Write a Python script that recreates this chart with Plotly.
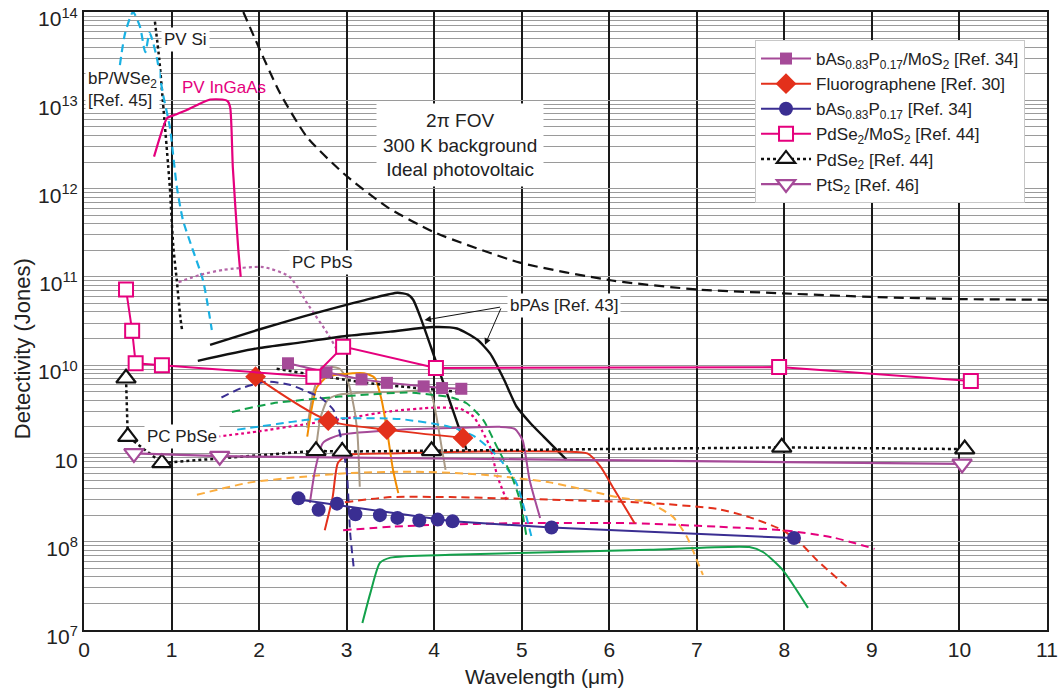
import plotly.graph_objects as go

# ---------------- data: wavelength (um) vs detectivity (Jones) ----------------
# ideal photovoltaic limit, 2pi FOV, 300 K background
blip_wl = [1.82, 1.96, 2.24, 2.55, 2.96, 3.46, 4.0, 4.98, 6.03, 7.0, 7.98, 9.05, 10.02, 11.0]
blip_d = [1.0e14, 4.8e13, 1.2e13, 3.8e12, 1.5e12, 6.2e11, 3.2e11, 1.45e11, 9.1e10, 7.2e10, 6.5e10, 5.9e10, 5.6e10, 5.5e10]

pvsi_wl = [0.81, 0.86, 0.90, 0.98, 1.02, 1.06, 1.10, 1.12]
pvsi_d = [7.8e13, 2.9e13, 1.0e13, 1.05e12, 2.2e11, 9.1e10, 3.5e10, 2.5e10]

bpwse2_wl = [0.41, 0.47, 0.56, 0.64, 0.70, 0.75, 0.83, 0.90, 0.98, 1.06, 1.13, 1.23, 1.36, 1.46]
bpwse2_d = [2.5e13, 5.8e13, 1.0e14, 6.8e13, 3.5e13, 5.8e13, 3.1e13, 1.2e13, 5.0e12, 1.05e12, 4.4e11, 2.2e11, 9.1e10, 2.5e10]

ingaas_wl = [0.80, 0.88, 0.95, 1.05, 1.18, 1.30, 1.44, 1.58, 1.64, 1.67, 1.70, 1.76, 1.79]
ingaas_d = [2.3e12, 4.2e12, 6.3e12, 6.9e12, 7.8e12, 8.9e12, 1.02e13, 1.02e13, 9.8e12, 8.3e12, 1.74e12, 2.2e11, 1.0e11]

pbs_wl = [1.08, 1.32, 1.59, 2.05, 2.35, 2.55, 2.78, 2.89, 2.92]
pbs_d = [8.7e10, 1.05e11, 1.2e11, 1.29e11, 1.0e11, 5.0e10, 2.3e10, 1.48e10, 1.23e10]

pbse_wl = [1.52, 2.0, 2.47, 3.0, 3.5, 4.0, 4.3, 4.45, 4.55, 4.64, 4.72, 4.84]
pbse_d = [1.55e9, 1.78e9, 2.1e9, 2.5e9, 3.0e9, 3.3e9, 3.2e9, 2.6e9, 1.78e9, 1.17e9, 5.6e8, 2.75e8]

bpas1_wl = [1.44, 1.98, 2.5, 2.92, 3.3, 3.58, 3.70, 3.76, 3.84, 4.0, 4.29, 4.37]
bpas1_d = [1.7e10, 2.5e10, 3.55e10, 4.6e10, 5.75e10, 6.6e10, 6.3e10, 5.5e10, 3.55e10, 1.26e10, 1.86e9, 1.1e9]

bpas2_wl = [1.30, 1.98, 2.5, 2.92, 3.5, 3.99, 4.26, 4.49, 4.64, 4.8, 4.94, 5.1, 5.25, 5.51]
bpas2_d = [1.12e10, 1.55e10, 1.82e10, 2.1e10, 2.4e10, 2.7e10, 2.6e10, 1.95e10, 1.35e10, 6.8e9, 3.4e9, 2.2e9, 1.55e9, 8.5e8]

# unlabelled literature curves
navy_dash_wl = [1.57, 1.8, 2.09, 2.35, 2.55, 2.70, 2.85, 2.94, 3.0, 3.04, 3.08]
navy_dash_d = [4.3e9, 5.5e9, 6.5e9, 6.0e9, 5.0e9, 4.3e9, 3.1e9, 1.41e9, 6.5e8, 1.26e8, 5.2e7]

green_dash_wl = [1.69, 2.16, 2.92, 3.69, 3.99, 4.2, 4.37, 4.56, 4.72, 4.87, 4.98, 5.06]
green_dash_d = [2.95e9, 3.7e9, 4.4e9, 4.9e9, 4.6e9, 4.3e9, 3.7e9, 2.4e9, 1.17e9, 6.0e8, 2.95e8, 1.05e8]

cyan_dash_wl = [1.75, 2.2, 2.55, 2.96, 3.61, 4.18, 4.45, 4.64, 4.78, 4.94, 5.12]
cyan_dash_d = [1.86e9, 2.15e9, 2.4e9, 2.5e9, 2.45e9, 2.0e9, 1.58e9, 1.12e9, 7.9e8, 4.6e8, 1.05e8]

orange_wl = [2.55, 2.6, 2.66, 2.78, 2.95, 3.2, 3.32, 3.4, 3.46, 3.53, 3.59]
orange_d = [1.55e9, 3.2e9, 5.6e9, 7.4e9, 7.9e9, 8.1e9, 7.2e9, 4.0e9, 1.86e9, 6.5e8, 3.55e8]

tan1_wl = [2.55, 2.62, 2.7, 2.83, 2.92, 3.0, 3.06, 3.12, 3.15]
tan1_d = [1.95e9, 5.0e9, 7.9e9, 9.5e9, 9.1e9, 7.1e9, 4.4e9, 1.86e9, 4.2e8]

tan2_wl = [2.65, 2.7, 2.78, 2.9, 3.2, 3.6, 3.95, 4.02, 4.08, 4.13]
tan2_d = [1.12e9, 2.5e9, 4.0e9, 4.6e9, 4.9e9, 5.0e9, 5.0e9, 2.8e9, 1.26e9, 6.5e8]

purple_wl = [2.58, 2.64, 2.73, 2.92, 3.61, 4.3, 4.75, 4.92, 5.01, 5.09, 5.21]
purple_d = [2.75e8, 6.5e8, 1.32e9, 1.62e9, 1.86e9, 1.95e9, 2.0e9, 1.9e9, 1.41e9, 5.0e8, 1.86e8]

red_wl = [2.75, 2.84, 2.9, 3.0, 3.5, 4.5, 5.5, 5.75, 5.9, 6.05, 6.29]
red_d = [1.35e8, 3.2e8, 7.8e8, 9.5e8, 1.0e9, 1.05e9, 1.05e9, 1.0e9, 7.1e8, 4.0e8, 1.62e8]

ltorange_wl = [1.29, 1.9, 2.47, 3.04, 3.8, 4.56, 5.32, 6.09, 6.46, 6.73, 6.89, 7.0, 7.07]
ltorange_d = [3.4e8, 4.7e8, 5.4e8, 6.0e8, 6.2e8, 5.75e8, 4.7e8, 3.2e8, 2.75e8, 1.9e8, 1.12e8, 6.2e7, 4.2e7]

red_dash_wl = [2.98, 3.5, 4.18, 5.32, 6.46, 7.23, 7.6, 7.98, 8.2, 8.37, 8.71]
red_dash_d = [2.8e8, 3.2e8, 3.2e8, 3.0e8, 2.75e8, 2.35e8, 1.9e8, 1.35e8, 9.3e7, 6.2e7, 3.1e7]

pink_dash_wl = [2.96, 3.53, 3.99, 4.95, 6.27, 7.23, 7.98, 8.55, 9.03]
pink_dash_d = [1.35e8, 1.48e8, 1.55e8, 1.62e8, 1.62e8, 1.48e8, 1.35e8, 1.12e8, 8.3e7]

green_wl = [3.18, 3.27, 3.38, 3.5, 4.18, 5.32, 6.46, 7.6, 7.76, 7.98, 8.27]
green_d = [1.2e7, 2.6e7, 5.75e7, 6.6e7, 7.1e7, 7.6e7, 8.1e7, 8.7e7, 7.6e7, 4.8e7, 1.78e7]

black_dot_wl = [2.20, 3.23, 4.26]
black_dot_d = [9.1e9, 6.3e9, 5.0e9]

# legend series
basmos2_wl = [2.33, 2.77, 3.17, 3.46, 3.88, 4.09, 4.31]
basmos2_d = [1.05e10, 8.3e9, 6.9e9, 6.3e9, 5.75e9, 5.5e9, 5.4e9]

fg_wl = [1.96, 2.79, 3.46, 4.33]
fg_d = [7.4e9, 2.35e9, 1.86e9, 1.5e9]

bas_wl = [2.45, 2.68, 2.89, 3.10, 3.38, 3.58, 3.83, 4.04, 4.21, 5.34, 8.11]
bas_d = [3.1e8, 2.3e8, 2.7e8, 2.05e8, 2.0e8, 1.86e8, 1.74e8, 1.78e8, 1.7e8, 1.45e8, 1.1e8]
bas_trend_wl = [2.45, 4.21, 5.34, 8.11]
bas_trend_d = [3.0e8, 1.7e8, 1.45e8, 1.1e8]

pdse2mos2_wl = [0.48, 0.55, 0.59, 0.89, 2.62, 2.96, 4.02, 7.94, 10.13]
pdse2mos2_d = [7.2e10, 2.45e10, 1.05e10, 1.0e10, 7.4e9, 1.62e10, 9.3e9, 9.5e9, 6.6e9]

pdse2_wl = [0.48, 0.50, 0.89, 2.65, 2.95, 3.97, 7.97, 10.06]
pdse2_d = [7.1e9, 1.55e9, 7.8e8, 1.07e9, 1.05e9, 1.07e9, 1.17e9, 1.12e9]

pts2_wl = [0.57, 1.55, 10.03]
pts2_d = [1.0e9, 9.3e8, 7.6e8]

# y-axis decade ticks
decade_vals = [1e7, 1e8, 1e9, 1e10, 1e11, 1e12, 1e13, 1e14]
decade_labels = ["10<sup>7</sup>", "10<sup>8</sup>", "10", "10<sup>10</sup>",
                 "10<sup>11</sup>", "10<sup>12</sup>", "10<sup>13</sup>", "10<sup>14</sup>"]

# ---------------- colours ----------------
MAGENTA = "#e5007d"
PURPLE = "#a54a98"
PBS_PURPLE = "#b566a8"
RED = "#e3301b"
NAVY = "#3a2e92"
ORANGE = "#f28c00"
LT_ORANGE = "#fbad3f"
GREEN = "#13a14b"
CYAN = "#1ab1e3"
TAN = "#a99a86"
BLACK = "#111111"
DASH = "8px,5px"
FONT = "Liberation Sans, Arial, sans-serif"

fig = go.Figure()


def curve(x, y, color, dash="solid", width=2.0, shape="spline", smoothing=0.6):
    fig.add_trace(go.Scatter(
        x=x, y=y, mode="lines", showlegend=False, hoverinfo="skip",
        line=dict(color=color, width=width, dash=dash, shape=shape,
                  smoothing=smoothing if shape == "spline" else None)))


# background limit and reference detectors
curve(blip_wl, blip_d, BLACK, dash="10px,6px", width=2.2)
curve(pvsi_wl, pvsi_d, BLACK, dash="dot", width=2.5)
curve(bpwse2_wl, bpwse2_d, CYAN, dash=DASH, width=2.2)
curve(ingaas_wl, ingaas_d, MAGENTA, width=2.2)
curve(pbs_wl, pbs_d, PBS_PURPLE, dash="dot", width=2.2)
curve(pbse_wl, pbse_d, MAGENTA, dash="dot", width=2.2)
curve(bpas1_wl, bpas1_d, BLACK, width=2.4)
curve(bpas2_wl, bpas2_d, BLACK, width=2.4)

# other literature curves
curve(ltorange_wl, ltorange_d, LT_ORANGE, dash=DASH)
curve(red_dash_wl, red_dash_d, RED, dash=DASH)
curve(pink_dash_wl, pink_dash_d, MAGENTA, dash=DASH)
curve(green_wl, green_d, GREEN)
curve(red_wl, red_d, RED)
curve(purple_wl, purple_d, PURPLE)
curve(tan1_wl, tan1_d, TAN)
curve(tan2_wl, tan2_d, TAN)
curve(orange_wl, orange_d, ORANGE)
curve(cyan_dash_wl, cyan_dash_d, CYAN, dash=DASH)
curve(green_dash_wl, green_dash_d, GREEN, dash=DASH)
curve(navy_dash_wl, navy_dash_d, NAVY, dash=DASH)
curve(black_dot_wl, black_dot_d, BLACK, dash="dot", width=2.5)

# ---------------- legend series ----------------
fig.add_trace(go.Scatter(
    x=basmos2_wl, y=basmos2_d, mode="lines+markers", legendrank=1,
    name="bAs<sub>0.83</sub>P<sub>0.17</sub>/MoS<sub>2</sub> [Ref. 34]",
    line=dict(color=PURPLE, width=2),
    marker=dict(symbol="square", size=12, color=PURPLE)))

fig.add_trace(go.Scatter(
    x=fg_wl, y=fg_d, mode="lines+markers", legendrank=2,
    name="Fluorographene [Ref. 30]",
    line=dict(color=RED, width=2, shape="spline", smoothing=0.8),
    marker=dict(symbol="diamond", size=16, color=RED)))

fig.add_trace(go.Scatter(
    x=bas_trend_wl, y=bas_trend_d, mode="lines", showlegend=False,
    line=dict(color=NAVY, width=2), hoverinfo="skip"))
fig.add_trace(go.Scatter(
    x=bas_wl, y=bas_d, mode="markers", showlegend=False,
    marker=dict(symbol="circle", size=14, color=NAVY)))
fig.add_trace(go.Scatter(
    x=[None], y=[None], mode="lines+markers", legendrank=3,
    name="bAs<sub>0.83</sub>P<sub>0.17</sub> [Ref. 34]",
    line=dict(color=NAVY, width=2),
    marker=dict(symbol="circle", size=14, color=NAVY)))

fig.add_trace(go.Scatter(
    x=pdse2mos2_wl, y=pdse2mos2_d, mode="lines+markers", legendrank=4,
    name="PdSe<sub>2</sub>/MoS<sub>2</sub> [Ref. 44]",
    line=dict(color=MAGENTA, width=2),
    marker=dict(symbol="square", size=14, color="white",
                line=dict(color=MAGENTA, width=2))))

fig.add_trace(go.Scatter(
    x=pdse2_wl, y=pdse2_d, mode="lines+markers", legendrank=5,
    name="PdSe<sub>2</sub> [Ref. 44]",
    line=dict(color=BLACK, width=2.5, dash="dot"),
    marker=dict(symbol="triangle-up", size=17, color="white",
                line=dict(color=BLACK, width=2.2))))

fig.add_trace(go.Scatter(
    x=pts2_wl, y=pts2_d, mode="lines+markers", legendrank=6,
    name="PtS<sub>2</sub> [Ref. 46]",
    line=dict(color=PURPLE, width=2.2),
    marker=dict(symbol="triangle-down", size=17, color="white",
                line=dict(color=PURPLE, width=2.2))))

# ---------------- text labels ----------------
def label(text, x, logy, size=17, color="#222222", bg="white", pad=2, align="center"):
    fig.add_annotation(x=x, y=logy, xref="x", yref="y", text=text, showarrow=False,
                       font=dict(family=FONT, size=size, color=color),
                       bgcolor=bg, borderpad=pad, align=align)


label("PV Si", 1.165, 13.69)
label("bP/WSe<sub>2</sub><br>[Ref. 45]", 0.445, 13.12, align="left")
label("PV InGaAs", 1.60, 13.14, color=MAGENTA, bg="rgba(0,0,0,0)")
label("2\u03c0 FOV<br>300 K background<br>Ideal photovoltaic", 4.295, 12.49, size=19, pad=6)
label("PC PbS", 2.72, 11.16)
label("PC PbSe", 1.12, 9.19)
label("bPAs [Ref. 43]", 5.48, 10.68)

# arrows from the bPAs label to both curves
for hx, hy in [(3.89, 10.51), (4.58, 10.23)]:
    fig.add_annotation(x=hx, y=hy, ax=4.77, ay=10.66, xref="x", yref="y",
                       axref="x", ayref="y", text="", showarrow=True,
                       arrowhead=2, arrowsize=1.3, arrowwidth=1, arrowcolor=BLACK)

# axis titles
fig.add_annotation(x=-0.0644, y=0.456, xref="paper", yref="paper",
                   xanchor="center", yanchor="middle",
                   text="Detectivity (Jones)", textangle=-90, showarrow=False,
                   font=dict(family=FONT, size=22, color="#222222"))
fig.add_annotation(x=0.479, y=-0.076, xref="paper", yref="paper",
                   xanchor="center", yanchor="middle",
                   text="Wavelength (\u03bcm)", showarrow=False,
                   font=dict(family=FONT, size=21, color="#222222"))

# ---------------- axes ----------------
fig.update_xaxes(range=[0, 11], dtick=1, tick0=0, showgrid=True, gridcolor="#1a1a1a",
                 gridwidth=1.6, showline=True, linecolor="#1a1a1a", linewidth=2,
                 mirror=True, ticks="", zeroline=False, automargin=False,
                 tickfont=dict(family=FONT, size=21, color="#222222"))
fig.update_yaxes(type="log", range=[6.9999, 14.0001],
                 tickmode="array", tickvals=decade_vals, ticktext=decade_labels,
                 ticklabeloverflow="allow", ticklabelshift=7, automargin=False,
                 showgrid=True, gridcolor="#9a9a9a", gridwidth=1,
                 minor=dict(showgrid=True, gridcolor="#9a9a9a", gridwidth=1,
                            dtick="D1", ticks=""),
                 showline=True, linecolor="#1a1a1a", linewidth=2, mirror=True, ticks="",
                 tickfont=dict(family=FONT, size=21, color="#222222"))

fig.update_layout(
    width=1061, height=694,
    margin=dict(l=84, r=14, t=12, b=64),
    paper_bgcolor="white", plot_bgcolor="white",
    font=dict(family=FONT, color="#222222"),
    legend=dict(x=0.6968, y=0.9547, xanchor="left", yanchor="top",
                bgcolor="white", bordercolor="#c8c8c8", borderwidth=1,
                font=dict(family=FONT, size=17, color="#222222"),
                itemwidth=50, tracegroupgap=0),
)

fig.write_html("out.html")
